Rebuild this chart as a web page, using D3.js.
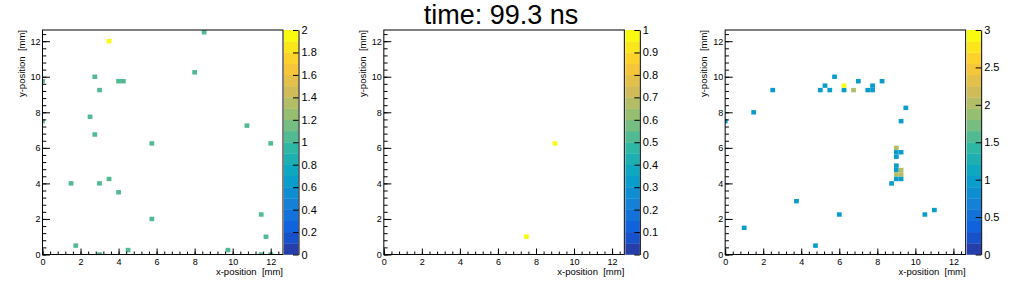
<!DOCTYPE html>
<html>
<head>
<meta charset="utf-8">
<script src="https://cdn.jsdelivr.net/npm/d3@7"></script>
<style>
  body { margin: 0; background: #fff; }
  svg { display: block; font-family: "Liberation Sans", Arial, sans-serif; }
  text { white-space: pre; }
</style>
</head>
<body>
<svg id="chart" width="1024" height="288"></svg>
<script>
// bin centres in mm (bins are 0.25 mm wide) and bin contents, per panel
var leftX = [3.5, 8.5, 2.75, 0, 4.0, 4.25, 3.0, 8.0, 2.5, 0, 2.75, 10.75, 5.75, 12.0,
  1.5, 3.0, 3.5, 4.0, 5.75, 11.5, 11.75, 1.75, 4.5, 9.75, 3.0, 11.5, 12.0];
var leftY = [12.0, 12.5, 10.0, 9.75, 9.75, 9.75, 9.25, 10.25, 7.75, 7.5, 6.75, 7.25, 6.25, 6.25,
  4.0, 4.0, 4.25, 3.5, 2.0, 2.25, 1.0, 0.5, 0.25, 0.25, 0, 0, 0];
var leftZ = [2, 1, 1, 1, 1, 1, 1, 1, 1, 1, 1, 1, 1, 1,
  1, 1, 1, 1, 1, 1, 1, 1, 1, 1, 1, 1, 1];

var midX = [9.0, 7.5];
var midY = [6.25, 1.0];
var midZ = [1, 1];

var rightX = [5.75, 5.25, 5.0, 5.5, 6.25, 6.25, 6.75, 7.0, 7.5, 7.75, 7.75, 8.25, 2.5, 1.5, 0,
  9.5, 9.25, 9.0, 9.0, 9.25, 9.0, 9.0, 9.0, 9.25, 9.0, 9.25, 9.0, 9.25, 8.75,
  3.75, 6.0, 10.5, 11.0, 1.0, 4.75];
var rightY = [10.0, 9.5, 9.25, 9.25, 9.25, 9.5, 9.25, 9.75, 9.25, 9.25, 9.5, 9.75, 9.25, 8.0, 7.5,
  8.25, 7.5, 6.0, 5.75, 5.75, 5.5, 5.0, 4.75, 4.75, 4.5, 4.5, 4.25, 4.25, 4.0,
  3.0, 2.25, 2.25, 2.5, 1.5, 0.5];
var rightZ = [1, 1, 1, 1, 1, 3, 2, 1, 1, 1, 1, 1, 1, 1, 1,
  1, 1, 2, 1, 1, 1, 1, 1, 2, 2, 2, 1, 1, 1,
  1, 1, 1, 1, 1, 1];

var zMax = [2, 1, 3];
var cbTicks = [
  [0, 0.2, 0.4, 0.6, 0.8, 1, 1.2, 1.4, 1.6, 1.8, 2],
  [0, 0.1, 0.2, 0.3, 0.4, 0.5, 0.6, 0.7, 0.8, 0.9, 1],
  [0, 0.5, 1, 1.5, 2, 2.5, 3]
];
var axisTicks = [0, 2, 4, 6, 8, 10, 12];
var minorTicks = d3.range(0, 12.61, 0.4);
var title = 'time: 99.3 ns';
var xTitle = 'x-position  [mm]';
var yTitle = 'y-position  [mm]';

var panels = [
  { x: leftX, y: leftY, z: leftZ },
  { x: midX, y: midY, z: midZ },
  { x: rightX, y: rightY, z: rightZ }
];

// ROOT kBird palette
var birdStops = [0, 0.125, 0.25, 0.375, 0.5, 0.625, 0.75, 0.875, 1];
var birdR = [0.2082, 0.0592, 0.0780, 0.0232, 0.1802, 0.5301, 0.8186, 0.9956, 0.9764];
var birdG = [0.1664, 0.3599, 0.5041, 0.6419, 0.7178, 0.7492, 0.7328, 0.7862, 0.9832];
var birdB = [0.5293, 0.8684, 0.8385, 0.7914, 0.6425, 0.4662, 0.3499, 0.1968, 0.0539];
var bird = d3.scaleLinear()
  .domain(birdStops)
  .range(birdStops.map(function(s, i) {
    return d3.rgb(birdR[i] * 255, birdG[i] * 255, birdB[i] * 255);
  }))
  .interpolate(d3.interpolateRgb);

var nLevels = 20;
function levelColor(level) {
  return bird((level + 0.99) / nLevels);
}

var binW = 0.25;
var padW = 1024 / 3;
var frameTop = 30, frameBottom = 254.5;
var svg = d3.select('#chart');

svg.append('text')
  .attr('x', 501)
  .attr('y', 23.5)
  .attr('text-anchor', 'middle')
  .attr('font-size', 27)
  .text(title);

panels.forEach(function(p, k) {
  var x0 = k * padW;
  var left = x0 + 42.5, right = x0 + 283;
  var cbLeft = x0 + 284, cbRight = x0 + 298.5;

  var x = d3.scaleLinear().domain([0, 12.645]).range([left, right]);
  var y = d3.scaleLinear().domain([0, 12.63]).range([frameBottom, frameTop]);
  var z = d3.scaleLinear().domain([0, zMax[k]]).range([frameBottom, frameTop]);
  var dz = zMax[k] / nLevels;

  var g = svg.append('g');

  g.append('clipPath')
    .attr('id', 'clip' + k)
    .append('rect')
    .attr('x', left)
    .attr('y', frameTop)
    .attr('width', right - left)
    .attr('height', frameBottom - frameTop);

  var cells = p.x.map(function(v, i) {
    return { x: v, y: p.y[i], z: p.z[i] };
  });

  g.append('g')
    .attr('clip-path', 'url(#clip' + k + ')')
    .selectAll('rect')
    .data(cells)
    .enter()
    .append('rect')
    .attr('x', function(d) { return x(d.x - binW / 2); })
    .attr('y', function(d) { return y(d.y + binW / 2); })
    .attr('width', function(d) { return x(d.x + binW / 2) - x(d.x - binW / 2); })
    .attr('height', function(d) { return y(d.y - binW / 2) - y(d.y + binW / 2); })
    .attr('fill', function(d) {
      var lvl = Math.min(nLevels - 1, Math.floor(d.z / dz + 1e-6));
      return levelColor(lvl);
    });

  // minor ticks
  g.append('g')
    .attr('transform', 'translate(0,' + frameBottom + ')')
    .call(d3.axisBottom(x).tickValues(minorTicks).tickSize(-3).tickFormat(''))
    .call(function(a) { a.select('.domain').remove(); });
  g.append('g')
    .attr('transform', 'translate(' + left + ',0)')
    .call(d3.axisLeft(y).tickValues(minorTicks).tickSize(-3.8).tickFormat(''))
    .call(function(a) { a.select('.domain').remove(); });

  // major ticks + labels
  g.append('g')
    .attr('class', 'xaxis')
    .attr('transform', 'translate(0,' + frameBottom + ')')
    .call(d3.axisBottom(x).tickValues(axisTicks).tickSize(-6).tickPadding(4))
    .call(function(a) { a.select('.domain').remove(); });
  g.append('g')
    .attr('class', 'yaxis')
    .attr('transform', 'translate(' + left + ',0)')
    .call(d3.axisLeft(y).tickValues(axisTicks).tickSize(-7.5).tickPadding(2))
    .call(function(a) { a.select('.domain').remove(); });

  g.selectAll('.xaxis text, .yaxis text')
    .attr('font-size', 9)
    .attr('font-family', '"Liberation Sans", Arial, sans-serif')
    .attr('fill', '#000');
  g.selectAll('.tick line').attr('stroke', '#000');

  // frame
  g.append('rect')
    .attr('x', left)
    .attr('y', frameTop)
    .attr('width', right - left)
    .attr('height', frameBottom - frameTop)
    .attr('fill', 'none')
    .attr('stroke', '#000')
    .attr('stroke-width', 1);

  // axis titles
  g.append('text')
    .attr('x', right)
    .attr('y', 274.5)
    .attr('text-anchor', 'end')
    .attr('font-size', 9.5)
    .text(xTitle);
  g.append('text')
    .attr('transform', 'translate(' + (x0 + 24.5) + ',' + frameTop + ') rotate(-90)')
    .attr('text-anchor', 'end')
    .attr('font-size', 9.5)
    .text(yTitle);

  // colour bar
  g.append('g')
    .selectAll('rect')
    .data(d3.range(nLevels))
    .enter()
    .append('rect')
    .attr('x', cbLeft)
    .attr('y', function(i) { return z((i + 1) * dz); })
    .attr('width', cbRight - cbLeft)
    .attr('height', function(i) { return z(i * dz) - z((i + 1) * dz) + 0.3; })
    .attr('fill', function(i) { return levelColor(i); });

  var cb = g.append('g')
    .attr('class', 'cbaxis')
    .attr('transform', 'translate(' + cbRight + ',0)')
    .call(d3.axisRight(z).tickValues(cbTicks[k]).tickSize(-5.5).tickSizeOuter(0)
      .tickPadding(3).tickFormat(d3.format('~g')));
  cb.selectAll('text')
    .attr('font-size', 11)
    .attr('font-family', '"Liberation Sans", Arial, sans-serif')
    .attr('fill', '#000');
  cb.selectAll('line, path').attr('stroke', '#000');
});
</script>
</body>
</html>
